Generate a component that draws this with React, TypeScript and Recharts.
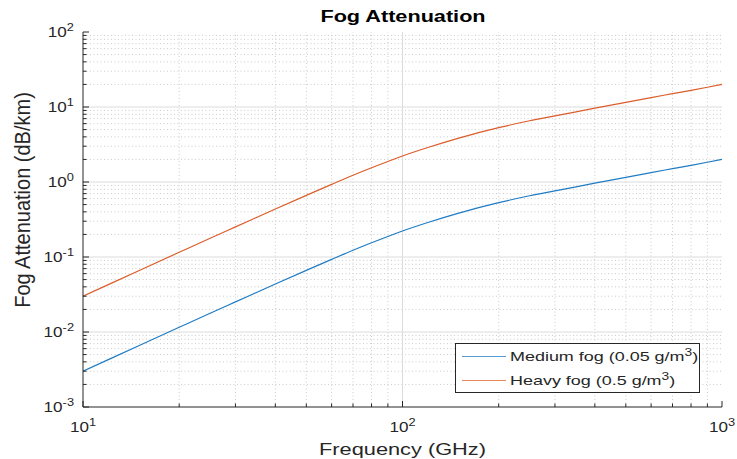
import React from 'react'
import { LineChart, Line, XAxis, YAxis, ReferenceLine, Legend } from 'recharts'

// values (log-log)
const freqGHz = [10, 12, 15, 20, 25, 30, 40, 50, 60, 70, 80, 90, 100, 120, 150, 200, 250, 300, 400, 500, 600, 700, 800, 900, 1000]
const heavyFog = [0.030, 0.0428, 0.0661, 0.1156, 0.178, 0.252, 0.436, 0.663, 0.93, 1.23, 1.55, 1.88, 2.22, 2.88, 3.85, 5.3, 6.55, 7.6, 9.65, 11.55, 13.35, 15.05, 16.7, 18.35, 20.0]
const mediumFog = [0.0030, 0.00428, 0.00661, 0.01156, 0.0178, 0.0252, 0.0436, 0.0663, 0.093, 0.123, 0.155, 0.188, 0.222, 0.288, 0.385, 0.53, 0.655, 0.76, 0.965, 1.155, 1.335, 1.505, 1.67, 1.835, 2.0]

const xMajorTicks = [10, 100, 1000]
const yMajorTicks = [0.001, 0.01, 0.1, 1, 10, 100]
const minorSteps = [2, 3, 4, 5, 6, 7, 8, 9]

const chartTitle = 'Fog Attenuation'
const xTitle = 'Frequency (GHz)'
const yTitle = 'Fog Attenuation (dB/km)'
const mediumName = 'Medium fog (0.05 g/m³)'
const heavyName = 'Heavy fog (0.5 g/m³)'
const legendOrder = [mediumName, heavyName]

const xMinorTicks = xMajorTicks.slice(0, -1).flatMap(d => minorSteps.map(m => m * d))
const yMinorTicks = yMajorTicks.slice(0, -1).flatMap(d => minorSteps.map(m => +(m * d).toPrecision(3)))
const xAllTicks = [...xMajorTicks, ...xMinorTicks].sort((a, b) => a - b)
const yAllTicks = [...yMajorTicks, ...yMinorTicks].sort((a, b) => a - b)

const data = freqGHz.map((f, i) => ({ f, medium: mediumFog[i], heavy: heavyFog[i] }))

const FONT = '"Liberation Sans", Arial, Helvetica, sans-serif'
const AXIS = '#262626'
const TEXT = '#262626'
const MAJOR_GRID = '#dcdcdc'
const MINOR_GRID = '#cccccc'
const BLUE = '#1f7cc4'
const ORANGE = '#dc5d2a'

const isMajor = (v: number) => Math.abs(Math.log10(v) - Math.round(Math.log10(v))) < 1e-6

function PowerLabel({ x, y, exp, anchor }: { x: number; y: number; exp: number; anchor: 'start' | 'middle' | 'end' }) {
  return (
    <g transform={`translate(${x},${y}) scale(1.22,1)`}>
      <text x={0} y={0} textAnchor={anchor} fontSize={14} fill={TEXT} fontFamily={FONT}>
        10<tspan dy={-6} fontSize={10.5}>{exp}</tspan>
      </text>
    </g>
  )
}

function BottomTick(props: any) {
  const { x, y, payload } = props
  const major = isMajor(payload.value)
  return (
    <g>
      <line x1={x} y1={y} x2={x} y2={y - (major ? 6 : 3.5)} stroke={AXIS} />
      {major && <PowerLabel x={x} y={y + 25} exp={Math.round(Math.log10(payload.value))} anchor="middle" />}
    </g>
  )
}

function TopTick(props: any) {
  const { x, y, payload } = props
  const major = isMajor(payload.value)
  return <line x1={x} y1={y} x2={x} y2={y + (major ? 6 : 3.5)} stroke={AXIS} />
}

function LeftTick(props: any) {
  const { x, y, payload } = props
  const major = isMajor(payload.value)
  return (
    <g>
      <line x1={x} y1={y} x2={x + (major ? 6 : 3.5)} y2={y} stroke={AXIS} />
      {major && <PowerLabel x={x - 9} y={y + 5} exp={Math.round(Math.log10(payload.value))} anchor="end" />}
    </g>
  )
}

function RightTick(props: any) {
  const { x, y, payload } = props
  const major = isMajor(payload.value)
  return <line x1={x} y1={y} x2={x - (major ? 6 : 3.5)} y2={y} stroke={AXIS} />
}

function XLabel(props: any) {
  const vb = props.viewBox || {}
  const cx = vb.x + vb.width / 2
  return (
    <g transform={`translate(${cx},455) scale(1.32,1)`}>
      <text textAnchor="middle" fontSize={16.5} fill={TEXT} fontFamily={FONT}>
        {xTitle}
      </text>
    </g>
  )
}

function YLabel() {
  return (
    <g transform={`translate(30,200) rotate(-90) scale(1,1.1)`}>
      <text textAnchor="middle" fontSize={20} fill={TEXT} fontFamily={FONT}>
        {yTitle}
      </text>
    </g>
  )
}

function withSup(name: string) {
  const parts = name.split('³')
  return (
    <>
      {parts[0]}
      <span style={{ fontSize: 10, position: 'relative', top: -5 }}>3</span>
      {parts[1]}
    </>
  )
}

function FogLegend({ payload }: any) {
  const items = [...(payload || [])].sort((a: any, b: any) => legendOrder.indexOf(a.value) - legendOrder.indexOf(b.value))
  return (
    <div
      style={{
        position: 'relative',
        width: 245,
        height: 50,
        boxSizing: 'border-box',
        border: `1px solid ${AXIS}`,
        background: '#fff',
        fontFamily: FONT,
        color: TEXT,
      }}
    >
      {items.map((e: any, i: number) => (
        <React.Fragment key={e.value}>
          <div
            style={{
              position: 'absolute',
              left: 6,
              top: 12 + i * 24,
              width: 44,
              height: 0,
              borderTop: `1.3px solid ${e.color}`,
              opacity: 0.75,
            }}
          />
          <div
            style={{
              position: 'absolute',
              left: 54,
              top: 6 + i * 24,
              fontSize: 13,
              lineHeight: '13px',
              whiteSpace: 'nowrap',
              transform: 'scaleX(1.38)',
              transformOrigin: 'left',
            }}
          >
            {withSup(e.value)}
          </div>
        </React.Fragment>
      ))}
    </div>
  )
}

export default function App() {
  return (
    <div style={{ position: 'absolute', left: 0, top: 0, width: 737, height: 459, background: '#fff' }}>
      <div
        style={{
          position: 'absolute',
          left: 402.5,
          top: 8,
          fontFamily: FONT,
          fontSize: 16.3,
          lineHeight: '16.3px',
          fontWeight: 'bold',
          color: '#000',
          whiteSpace: 'nowrap',
          transform: 'translateX(-50%) scaleX(1.33)',
          zIndex: 2,
        }}
      >
        {chartTitle}
      </div>
      <LineChart width={737} height={459} data={data} margin={{ top: 32, right: 15, bottom: 0, left: 0 }}>
        {xMinorTicks.map(v => (
          <ReferenceLine key={'xm' + v} xAxisId="x" yAxisId="y" x={v} stroke={MINOR_GRID} strokeDasharray="1 2.5" />
        ))}
        {yMinorTicks.map(v => (
          <ReferenceLine key={'ym' + v} xAxisId="x" yAxisId="y" y={v} stroke={MINOR_GRID} strokeDasharray="1 2.5" />
        ))}
        {xMajorTicks.slice(1, -1).map(v => (
          <ReferenceLine key={'xM' + v} xAxisId="x" yAxisId="y" x={v} stroke={MAJOR_GRID} />
        ))}
        {yMajorTicks.slice(1, -1).map(v => (
          <ReferenceLine key={'yM' + v} xAxisId="x" yAxisId="y" y={v} stroke={MAJOR_GRID} />
        ))}
        <XAxis
          xAxisId="x"
          dataKey="f"
          type="number"
          scale="log"
          domain={[10, 1000]}
          allowDataOverflow
          ticks={xAllTicks}
          interval={0}
          tickSize={0}
          tickMargin={0}
          height={52}
          axisLine={{ stroke: AXIS }}
          tickLine={false}
          tick={(p: any) => <BottomTick {...p} />}
          label={{ value: xTitle, content: XLabel }}
        />
        <XAxis
          xAxisId="xt"
          orientation="top"
          dataKey="f"
          type="number"
          scale="log"
          domain={[10, 1000]}
          allowDataOverflow
          ticks={xAllTicks}
          interval={0}
          tickSize={0}
          tickMargin={0}
          height={0}
          axisLine={{ stroke: AXIS }}
          tickLine={false}
          tick={(p: any) => <TopTick {...p} />}
        />
        <YAxis
          yAxisId="y"
          type="number"
          scale="log"
          domain={[0.001, 100]}
          allowDataOverflow
          ticks={yAllTicks}
          interval={0}
          tickSize={0}
          tickMargin={0}
          width={83}
          axisLine={{ stroke: AXIS }}
          tickLine={false}
          tick={(p: any) => <LeftTick {...p} />}
          label={{ value: yTitle, content: YLabel }}
        />
        <YAxis
          yAxisId="yr"
          orientation="right"
          type="number"
          scale="log"
          domain={[0.001, 100]}
          allowDataOverflow
          ticks={yAllTicks}
          interval={0}
          tickSize={0}
          tickMargin={0}
          width={0}
          axisLine={{ stroke: AXIS }}
          tickLine={false}
          tick={(p: any) => <RightTick {...p} />}
        />
        <Line
          xAxisId="x"
          yAxisId="y"
          type="monotone"
          dataKey="medium"
          name={mediumName}
          stroke={BLUE}
          strokeWidth={1.2}
          dot={false}
          isAnimationActive={false}
        />
        <Line
          xAxisId="x"
          yAxisId="y"
          type="monotone"
          dataKey="heavy"
          name={heavyName}
          stroke={ORANGE}
          strokeWidth={1.2}
          dot={false}
          isAnimationActive={false}
        />
        <Legend
          layout="vertical"
          align="center"
          verticalAlign="middle"
          wrapperStyle={{ left: 455, top: 343, width: 245, height: 50 }}
          content={(p: any) => <FogLegend {...p} />}
        />
      </LineChart>
    </div>
  )
}
